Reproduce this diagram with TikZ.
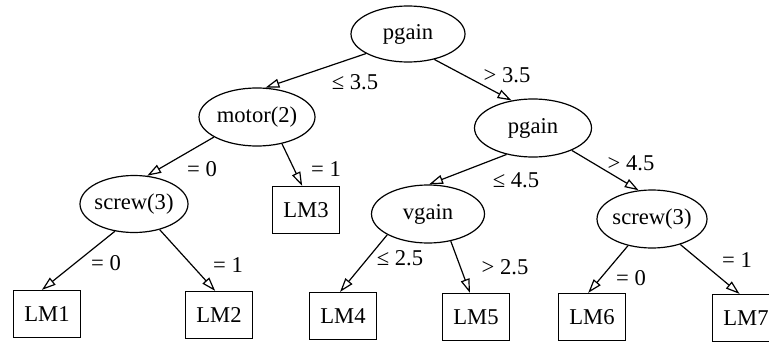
\documentclass[tikz,border=0pt]{standalone}
\usepackage{fontspec}
\setmainfont{Liberation Serif}
\usetikzlibrary{arrows.meta,shapes.geometric}
\begin{document}
\begin{tikzpicture}[x=0.5pt,y=-0.5pt,
  font=\fontsize{11.3pt}{13pt}\selectfont,
  innernode/.style={draw, ellipse, inner sep=0pt, line width=0.6pt},
  leaf/.style={draw, rectangle, inner sep=0pt, minimum width=33.5pt, minimum height=23.5pt, line width=0.6pt},
  edgelbl/.style={inner sep=0pt},
  branch/.style={line width=0.6pt, -{Triangle[open,length=7pt,width=4.5pt]}}]
\fill[white] (0,0) rectangle (769,342);
\clip (0,0) rectangle (769,342);
% internal nodes
\node[innernode, minimum width=57pt, minimum height=28pt] (root) at (408,34) {\makebox[0pt]{pgain}};
\node[innernode, minimum width=58pt, minimum height=29pt] (motor) at (257,117) {\makebox[0pt]{motor(2)}};
\node[innernode, minimum width=58.5pt, minimum height=29pt] (pg2) at (533,128) {\makebox[0pt]{pgain}};
\node[innernode, minimum width=54pt, minimum height=28.5pt] (scrL) at (134,204) {\makebox[0pt]{screw(3)}};
\node[innernode, minimum width=56.5pt, minimum height=29pt] (vg) at (428,214) {\makebox[0pt]{vgain}};
\node[innernode, minimum width=55pt, minimum height=29pt] (scrR) at (652,219) {\makebox[0pt]{screw(3)}};
% leaves
\node[leaf] (LM1) at (47,314) {LM1};
\node[leaf] (LM2) at (219,315) {LM2};
\node[leaf] (LM3) at (306,210) {LM3};
\node[leaf] (LM4) at (343,316) {LM4};
\node[leaf] (LM5) at (476,317) {LM5};
\node[leaf] (LM6) at (592,317) {LM6};
\node[leaf] (LM7) at (746,318) {LM7};
% edges
\draw[branch] (root.205) -- (motor.74);
\draw[branch] (root.-44) -- (pg2.128);
\draw[branch] (motor.205) -- (scrL.65);
\draw[branch] (motor.-47) -- (LM3.99);
\draw[branch] (pg2.225) -- (vg.88);
\draw[branch] (pg2.-30) -- (scrR.115);
\draw[branch] (scrL.235) -- (LM1.102);
\draw[branch] (scrL.-45) -- (LM2.99);
\draw[branch] (vg.207) -- (LM4.97);
\draw[branch] (vg.-50) -- (LM5.104);
\draw[branch] (scrR.228) -- (LM6.99);
\draw[branch] (scrR.-42) -- (LM7.105);
% edge labels
\node[edgelbl] (l1) at (355,82) {≤ 3.5};
\node[edgelbl] (l2) at (507,75) {> 3.5};
\node[edgelbl] (l3) at (202,169) {= 0};
\node[edgelbl] (l4) at (326,169) {= 1};
\node[edgelbl] (l5) at (516,180) {≤ 4.5};
\node[edgelbl] (l6) at (631,163) {> 4.5};
\node[edgelbl] (l7) at (106,263) {= 0};
\node[edgelbl] (l8) at (228,265) {= 1};
\node[edgelbl] (l9) at (400,258) {≤ 2.5};
\node[edgelbl] (l10) at (505,267) {> 2.5};
\node[edgelbl] (l11) at (631,278) {= 0};
\node[edgelbl] (l12) at (737,260) {= 1};
\end{tikzpicture}
\end{document}
